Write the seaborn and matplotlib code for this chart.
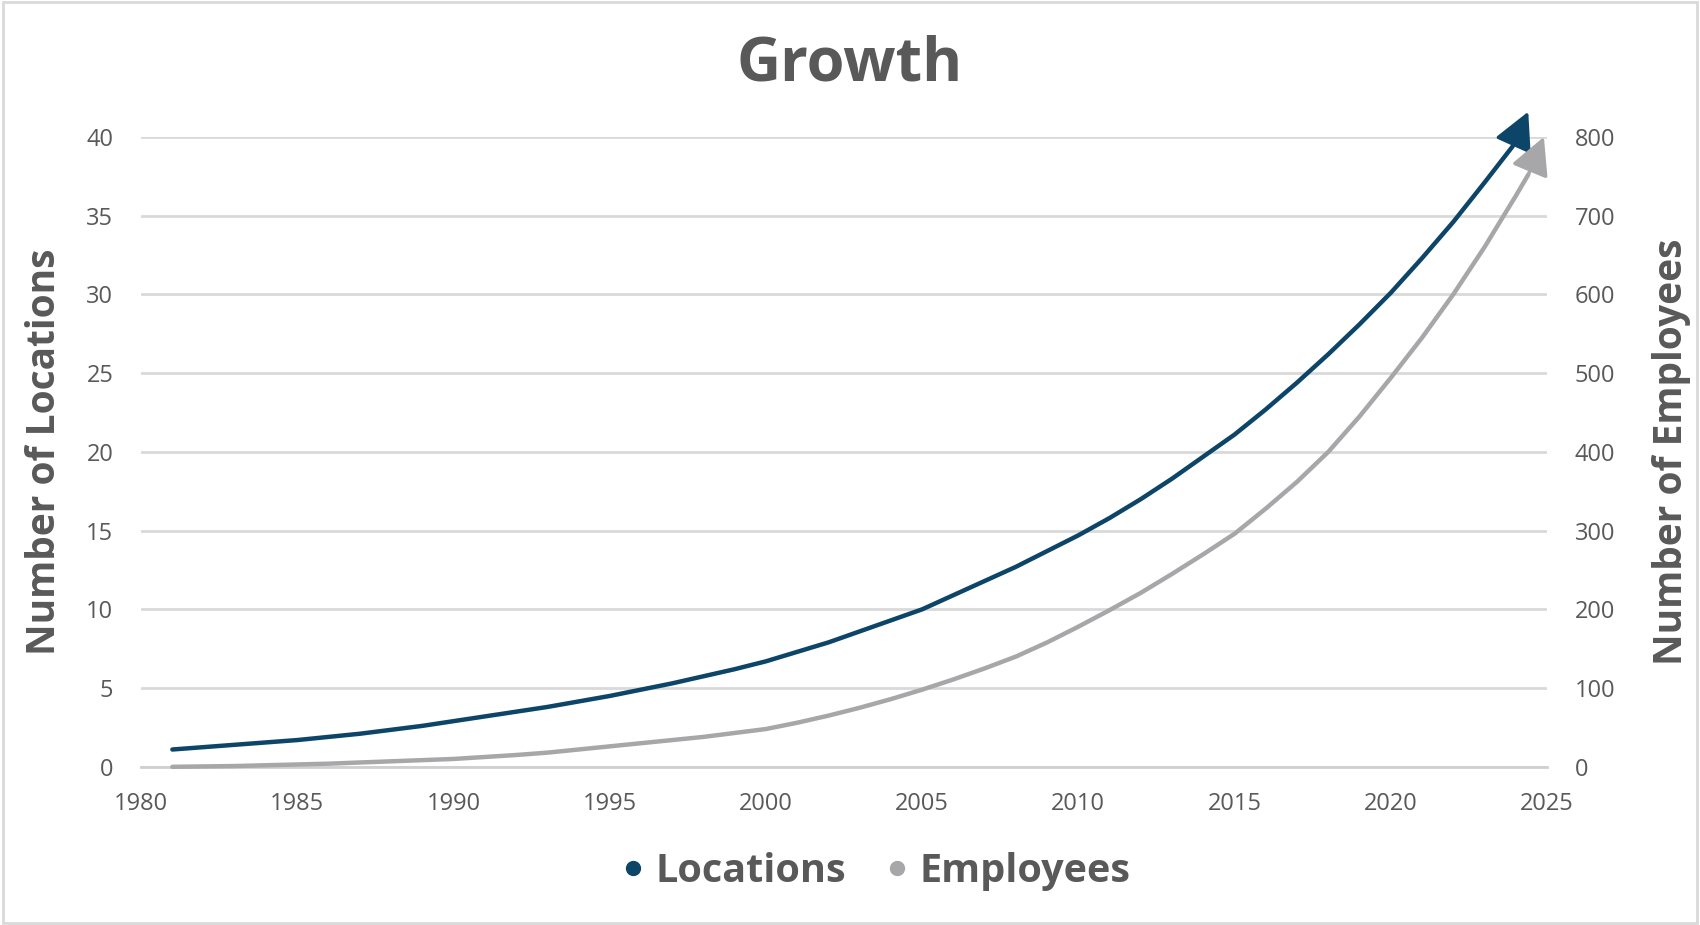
import matplotlib
matplotlib.use("Agg")
import matplotlib.pyplot as plt
import seaborn as sns
import pandas as pd

# Values (last entry of each series = arrow tip)
loc_years = [1981, 1982, 1983, 1984, 1985, 1986, 1987, 1988, 1989, 1990,
             1991, 1992, 1993, 1994, 1995, 1996, 1997, 1998, 1999, 2000,
             2001, 2002, 2003, 2004, 2005, 2006, 2007, 2008, 2009, 2010,
             2011, 2012, 2013, 2014, 2015, 2016, 2017, 2018, 2019, 2020,
             2021, 2022, 2023, 2023.9, 2024.4]
locations = [1.1, 1.25, 1.4, 1.55, 1.7, 1.9, 2.1, 2.35, 2.6, 2.9,
             3.2, 3.5, 3.8, 4.15, 4.5, 4.9, 5.3, 5.75, 6.2, 6.7,
             7.3, 7.9, 8.6, 9.3, 10.0, 10.9, 11.8, 12.7, 13.7, 14.7,
             15.8, 17.0, 18.3, 19.7, 21.1, 22.7, 24.4, 26.2, 28.1, 30.1,
             32.3, 34.6, 37.1, 39.4, 41.6]
emp_years = [1981, 1982, 1983, 1984, 1985, 1986, 1987, 1988, 1989, 1990,
             1991, 1992, 1993, 1994, 1995, 1996, 1997, 1998, 1999, 2000,
             2001, 2002, 2003, 2004, 2005, 2006, 2007, 2008, 2009, 2010,
             2011, 2012, 2013, 2014, 2015, 2016, 2017, 2018, 2019, 2020,
             2021, 2022, 2023, 2024, 2024.4, 2024.9]
employees = [0, 0.5, 1, 2, 3, 4, 5.5, 7, 8.5, 10,
             12.5, 15, 18, 22, 26, 30, 34, 38, 43, 48,
             56, 65, 75, 86, 98, 111, 125, 140, 158, 178,
             199, 221, 245, 270, 296, 328, 362, 400, 445, 494,
             545, 600, 660, 725, 752, 800]

loc_df = pd.DataFrame({"Year": loc_years, "Locations": locations})
emp_df = pd.DataFrame({"Year": emp_years, "Employees": employees})

navy = "#0d4569"
grey = "#a7a7aa"
text_grey = "#595959"

sns.set_theme(style="white")
plt.rcParams["font.family"] = ["Open Sans", "DejaVu Sans"]

fig = plt.figure(figsize=(17, 9.25), dpi=100)
ax = fig.add_axes([0.083, 0.171, 0.827, 0.681])
ax2 = ax.twinx()

sns.lineplot(data=loc_df.iloc[:-1], x="Year", y="Locations", ax=ax, color=navy,
             lw=3.2, clip_on=False, zorder=5)
sns.lineplot(data=emp_df.iloc[:-1], x="Year", y="Employees", ax=ax2, color=grey,
             lw=3.2, clip_on=False, zorder=4)

# arrow heads at the end of each series
head = "-|>,head_length=1.15,head_width=0.6"
ax.annotate("", xy=(loc_years[-1], locations[-1]), xytext=(loc_years[-2], locations[-2]),
            arrowprops=dict(arrowstyle=head, mutation_scale=20, color=navy, lw=2.5,
                            shrinkA=0, shrinkB=0),
            annotation_clip=False, zorder=6)
ax2.annotate("", xy=(emp_years[-1], employees[-1]), xytext=(emp_years[-2], employees[-2]),
             arrowprops=dict(arrowstyle=head, mutation_scale=20, color=grey, lw=2.5,
                             shrinkA=0, shrinkB=0),
             annotation_clip=False, zorder=6)

ax.set_xlim(1980, 2025)
ax.set_ylim(0, 40)
ax2.set_ylim(0, 800)
ax.set_xticks(range(1980, 2026, 5))
ax.set_yticks(range(0, 41, 5))
ax2.set_yticks(range(0, 801, 100))

ax.yaxis.grid(True, color="#d9d9d9", lw=2)
ax.set_axisbelow(True)
for a in (ax, ax2):
    for s in a.spines.values():
        s.set_visible(False)
    a.tick_params(length=0, labelsize=17, labelcolor=text_grey, pad=20)
ax.tick_params(axis="x", pad=18)
ax.spines["bottom"].set_visible(True)
ax.spines["bottom"].set_color("#cfcfcf")
ax.spines["bottom"].set_linewidth(2)

ax.set_xlabel("")
ax.set_ylabel("Number of Locations", fontsize=28, fontweight="bold",
              color=text_grey, labelpad=16)
ax2.set_ylabel("Number of Employees", fontsize=28, fontweight="bold",
               color=text_grey, labelpad=26)

fig.text(0.5, 0.93, "Growth", fontsize=44, fontweight="bold", color=text_grey,
         ha="center", va="center")

handles = [plt.Line2D([], [], marker="o", ls="", color=navy, markersize=10),
           plt.Line2D([], [], marker="o", ls="", color=grey, markersize=10)]
leg = fig.legend(handles, ["Locations", "Employees"], loc="center",
                 bbox_to_anchor=(0.514, 0.058), ncol=2, frameon=False,
                 handlelength=0.8, handletextpad=0.15, columnspacing=0.9,
                 prop={"size": 28.5, "weight": "bold"})
for t in leg.get_texts():
    t.set_color(text_grey)

# thin frame around the whole picture
fig.patches.append(plt.Rectangle((0.002, 0.002), 0.996, 0.996, transform=fig.transFigure,
                                 fill=False, ec="#d9d9d9", lw=2))

fig.savefig("out.png", dpi=100, facecolor="white")
